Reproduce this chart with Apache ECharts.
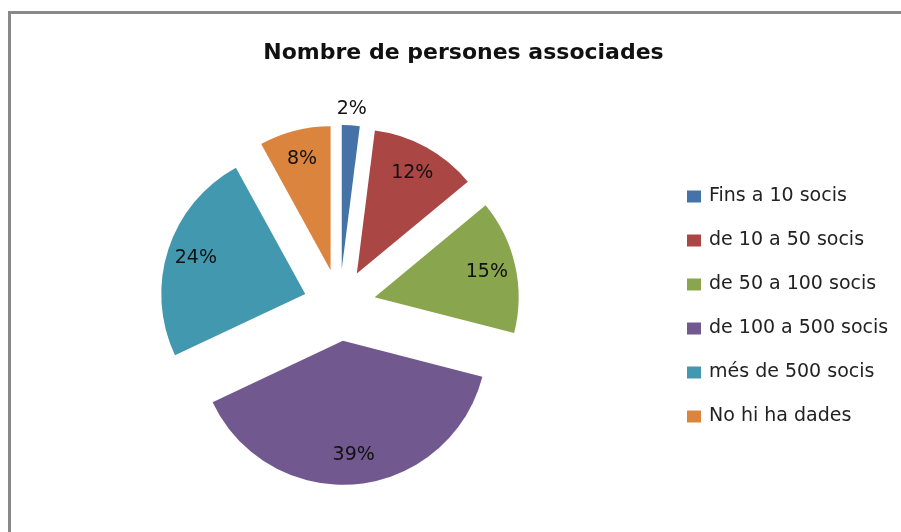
<!DOCTYPE html>
<html>
<head>
<meta charset="utf-8">
<script src="https://cdn.jsdelivr.net/npm/echarts@6/dist/echarts.min.js"></script>
<style>
  html, body { margin: 0; padding: 0; background: #fff; }
  #wrap { position: relative; width: 901px; height: 532px; }
  #chart { position: absolute; left: 0; top: 0; width: 901px; height: 532px; }
  .frame { position: absolute; left: 8px; top: 11px; right: 0; bottom: 0;
           border-top: 3px solid #898989; border-left: 3px solid #898989; pointer-events: none; }
</style>
</head>
<body>
<div id="wrap">
  <div id="chart"></div>
  <div class="frame"></div>
</div>
<script>
// dades del gràfic
const titleText = "Nombre de persones associades";
const categories = ["Fins a 10 socis", "de 10 a 50 socis", "de 50 a 100 socis",
                    "de 100 a 500 socis", "més de 500 socis", "No hi ha dades"];
const values = [2, 12, 15, 39, 24, 8];
const colors = ["#4572A7", "#AA4643", "#89A54E", "#71588F", "#4198AF", "#DB843D"];
// labels that sit outside the slice (too narrow)
const outsideLabel = [true, false, false, false, false, false];

const center = [339.5, 305];
const offset = 36;
const font = "DejaVu Sans";

const chart = echarts.init(document.getElementById("chart"));

const baseData = (fn) => categories.map((name, i) => Object.assign({
  name: name,
  value: values[i],
  selected: true
}, fn(i)));

const commonPie = {
  type: "pie",
  center: center,
  startAngle: 90,
  clockwise: true,
  selectedMode: "multiple",
  selectedOffset: offset,
  avoidLabelOverlap: false,
  animation: false,
  silent: true,
  labelLine: { show: false },
  emphasis: { disabled: true },
  select: { itemStyle: { borderWidth: 0 } }
};

const pieLabel = (show) => ({
  show: show,
  position: "inside",
  formatter: "{c}%",
  fontFamily: font,
  fontSize: 19,
  color: "#111"
});

const option = {
  backgroundColor: "#fff",
  animation: false,
  title: {
    text: titleText,
    left: 458.5,
    top: 37,
    textAlign: "center",
    textStyle: { fontFamily: font, fontSize: 22, fontWeight: "bold", color: "#111" }
  },
  legend: {
    orient: "vertical",
    left: 682,
    top: 182,
    itemWidth: 14,
    itemHeight: 12,
    itemGap: 25,
    icon: "rect",
    selectedMode: false,
    data: categories,
    textStyle: { fontFamily: font, fontSize: 19, color: "#222", padding: [0, 0, 0, 3] }
  },
  series: [
    Object.assign({}, commonPie, {
      name: "main",
      radius: [0, 144],
      label: { show: false },
      data: baseData((i) => ({ itemStyle: { color: colors[i] } }))
    }),
    Object.assign({}, commonPie, {
      name: "inner-labels",
      radius: [100, 124],
      itemStyle: { color: "rgba(0,0,0,0)", borderWidth: 0 },
      data: baseData((i) => ({ label: pieLabel(!outsideLabel[i]) }))
    }),
    Object.assign({}, commonPie, {
      name: "outer-labels",
      radius: [150, 165],
      itemStyle: { color: "rgba(0,0,0,0)", borderWidth: 0 },
      data: baseData((i) => ({ label: pieLabel(outsideLabel[i]) }))
    })
  ]
};

chart.setOption(option);
</script>
</body>
</html>
